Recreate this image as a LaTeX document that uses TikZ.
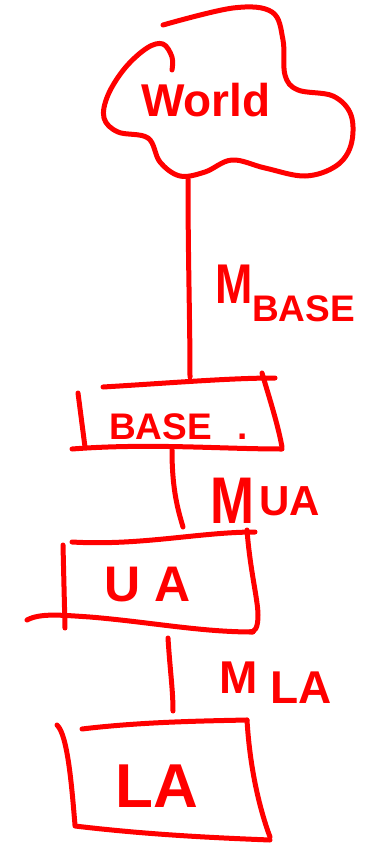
\documentclass[tikz,border=0pt]{standalone}
\usepackage{fontspec}
\setmainfont{Liberation Sans}
\usetikzlibrary{positioning}
\definecolor{penred}{RGB}{255,0,0}
\tikzset{
  pen/.style={draw=penred, line width=5pt, line cap=round, line join=round},
  hand/.style={text=penred, inner sep=0pt, font=\bfseries\fontsize{#1}{#1}\selectfont},
  hand/.default=40,
}

\begin{document}
\begin{tikzpicture}[x=1pt,y=-1pt]
  \useasboundingbox (0,0) rectangle (368,844);
  % cloud
  \draw[pen] plot[smooth, tension=0.6] coordinates {(163,25) (233,8) (272,12) (283,40) (285,75) (298,90) (333,96) (351,115) (351,145) (336,166) (305,176) (265,168) (232,160) (205,172) (180,176) (160,162) (148,138) (118,132) (104,118) (108,95) (125,68) (147,48) (163,44) (172,57) (172,70)};
  \node[hand=46] (world) at (206,100) {World};
  \coordinate (worldfoot) at (188,179);

  % BASE box
  \draw[pen] (103,387) .. controls (170,383) and (230,378) .. (275,378);
  \draw[pen] (262,373) .. controls (270,400) and (278,425) .. (282,447);
  \draw[pen] (72,449) .. controls (150,443) and (220,449) .. (282,449);
  \draw[pen] (78,393) -- (85,447);
  \node[hand=37, anchor=base west] (base) at (109,439) {BASE\hspace{26pt}.};
  \coordinate (basetop) at (190,377);
  \coordinate (basefoot) at (172,450);

  % UA box
  \draw[pen] (72,542) .. controls (140,546) and (200,532) .. (255,532);
  \draw[pen] (247,530) .. controls (250,570) and (258,600) .. (258,615) .. controls (258,628) and (255,632) .. (250,632);
  \draw[pen] (27,620) .. controls (40,613) and (60,615) .. (90,617) .. controls (150,622) and (200,632) .. (253,632);
  \draw[pen] (63,545) -- (65,628);
  \node[hand=50, anchor=base west] (ua) at (104,601) {U A};
  \coordinate (uatop) at (183,527);
  \coordinate (uafoot) at (168,638);

  % LA box
  \draw[pen] (82,729) .. controls (140,722) and (200,721) .. (247,720);
  \draw[pen] (247,720) .. controls (250,770) and (260,810) .. (270,837);
  \draw[pen] (75,826) .. controls (150,835) and (220,838) .. (270,840);
  \draw[pen] (57,725) .. controls (68,735) and (72,790) .. (75,825);
  \node[hand=62, anchor=base west] (la) at (115,807) {LA};
  \coordinate (latop) at (173,711);

  % connectors
  \draw[pen] (worldfoot) .. controls (188,260) and (190,320) .. (basetop);
  \draw[pen] (basefoot) .. controls (172,490) and (178,510) .. (uatop);
  \draw[pen] (uafoot) .. controls (170,670) and (173,690) .. (latop);

  % labels
  \node[hand=56, anchor=base west, xscale=0.8] (mbase) at (215,303) {M};
  \node[hand=37, anchor=base west] (mbasesub) at (252,321) {BASE};
  \node[hand=66, anchor=base west, xscale=0.8] (mua) at (210,523) {M};
  \node[hand=42, anchor=base west] (muasub) at (259,515) {UA};
  \node[hand=46, anchor=base west] (mla) at (219,693) {M};
  \node[hand=46, anchor=base west] (mlasub) at (270,703) {LA};
\end{tikzpicture}
\end{document}
